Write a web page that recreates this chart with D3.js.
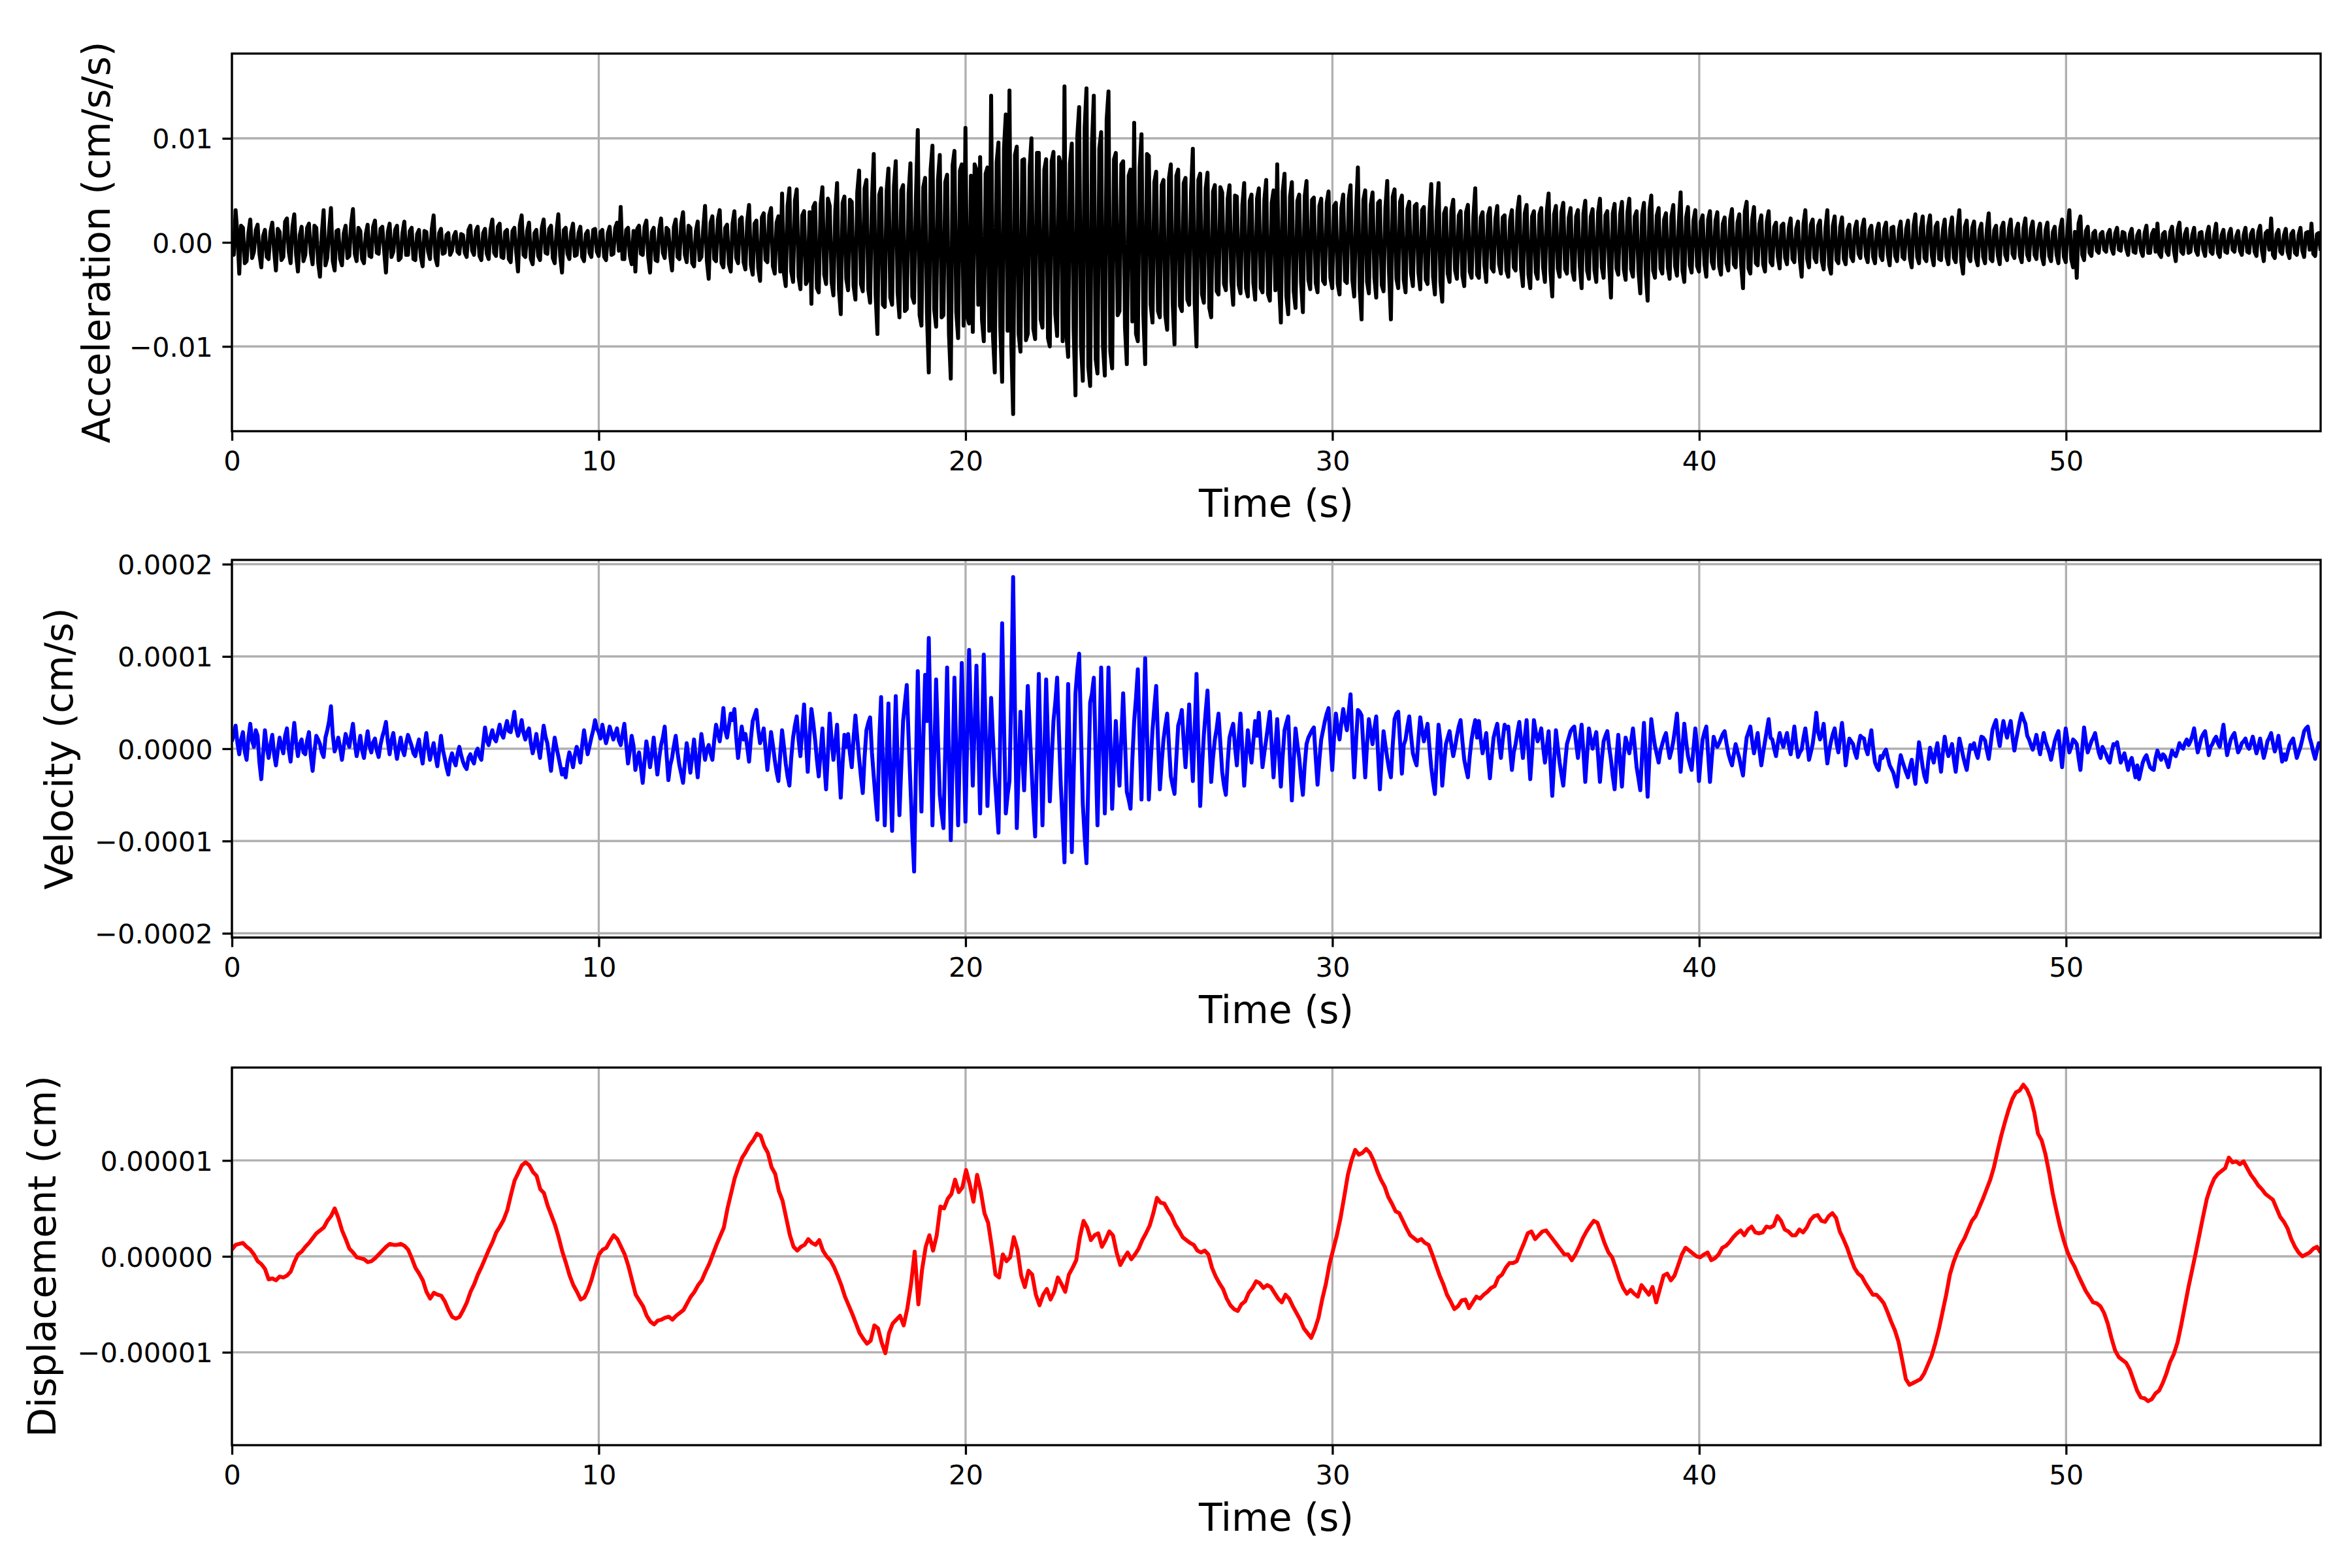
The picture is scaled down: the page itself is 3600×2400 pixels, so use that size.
<!DOCTYPE html>
<html>
<head>
<meta charset="utf-8">
<script src="https://cdn.jsdelivr.net/npm/d3@7"></script>
<style>
  body { margin: 0; background: #ffffff; }
  svg { display: block; font-family: "DejaVu Sans", sans-serif; }
</style>
</head>
<body>
<script>

// Data (samples evenly spaced from 0 to tEnd)
// ==============================
var tEnd = 56.94;

// acceleration, units of 1e-4 cm/s/s, one row per second
var accelUnit = 1e-4;
var accel = [
  5, -12, 31, 8, -30, 16, 14, -20, -18, 9, 22, -15, -9, 12, 17, -11, -24, 6, 12, -14,
  -16, 10, 19, -8, -27, 13, 10, -17, -14, 20, 23, -9, -20, 15, 27, -12, -28, 7, 15, -18,
  -12, 14, 18, -10, -21, 16, 14, -19, -33, 8, 31, -22, -15, 12, 33, -18, -27, 11, 12, -16,
  -22, 9, 16, -15, -13, 18, 32, -11, -18, 14, 11, -16, -20, 8, 17, -13, -14, 15, 21, -10,
  -11, 13, 15, -8, -29, 10, 18, -14, -9, 12, 16, -17, -15, 9, 20, -12, -12, 11, 14, -16,
  -17, 8, 12, -14, -23, 11, 10, -9, -16, 13, 26, -15, -22, 9, 13, -11, -10, 7, 9, -12,
  -8, 6, 10, -9, -11, 8, 7, -10, -14, 12, 16, -8, -12, 11, 15, -13, -17, 9, 13, -11,
  -16, 12, 22, -10, -13, 15, 18, -14, -15, 10, 12, -16, -19, 11, 14, -9, -28, 17, 26, -12,
  -14, 11, 19, -16, -21, 9, 12, -13, -17, 14, 22, -10, -11, 13, 16, -15, -20, 10, 27, -13,
  -29, 12, 14, -11, -16, 10, 18, -13, -12, 9, 15, -14, -18, 8, 11, -10, -14, 12, 13, -9,
  -13, 10, 12, -14, -17, 9, 15, -12, -11, 14, 19, -8, 34, -16, -16, 12, 14, -13, -21, 11,
  -28, 13, 16, -11, -12, 15, 21, -14, -29, 10, 14, -17, -18, 12, 23, -10, -15, 14, 12, -13,
  -27, 15, 22, -14, -16, 18, 29, -12, -19, 16, 14, -20, -23, 11, 20, -17, -14, 13, 35, -18,
  -35, 19, 25, -16, -18, 22, 31, -20, -24, 14, 17, -21, -28, 18, 30, -15, -20, 22, 24, -19,
  -26, 20, 36, -22, -31, 18, 21, -25, -37, 24, 28, -17, -19, 26, 33, -23, -30, 19, 25, -28,
  47, -30, -42, 35, 52, -28, -38, 40, 51, -33, -45, 26, 30, -40, -36, 29, -59, 34, 38, -44,
  -48, 36, 53, -31, -40, 42, 35, -38, -51, 30, 57, -45, -69, 38, 44, -35, -46, 41, 39, -42,
  -55, 48, 69, -40, -47, 52, 60, -45, -58, 41, 85, -50, -88, 46, 52, -60, -62, 49, 71, -53,
  -60, 54, 78, -48, -72, 50, 55, -66, -64, 47, 76, -52, -58, 44, 108, -70, -80, 53, 62, -68,
  -125, 70, 93, -65, -81, 60, 84, -72, -70, 58, 65, -88, -131, 74, 88, -67, -92, 69, 75, -80,
  110, -72, -78, 64, -86, 75, 70, -60, 82, -74, -95, 66, 72, -85, 141, -90, -125, 77, 96, -82,
  -134, 90, 123, -85, 146, -98, -165, 84, 92, -88, -105, 79, 80, -94, -88, 72, 100, -83, -93, 86,
  86, -74, -82, 70, 80, -92, -100, 78, 87, -69, -90, 82, 75, -95, 150, -88, -110, 76, 95, -84,
  -147, 102, 130, -98, -133, 110, 148, -120, -138, 95, 141, -112, -126, 90, 106, -100, -128, 118, 145, -105,
  -121, 80, 86, -70, -66, 75, 78, -82, -117, 64, 70, -76, 115, -88, -95, 72, 104, -69, -117, 85,
  83, -60, -77, 58, 68, -66, -72, 55, 60, -70, -84, 62, 75, -58, -98, 64, 70, -61, -66, 57,
  62, -55, -60, 48, 90, -58, -100, 60, 66, -50, -58, 52, 67, -63, -72, 49, 55, -47, -50, 53,
  48, -40, -46, 42, 55, -38, -60, 45, 44, -41, -49, 36, 57, -44, -52, 40, 46, -39, -55, 42,
  52, -44, -48, 41, 60, -50, -56, 38, 50, -46, 75, -40, -77, 49, 66, -52, -69, 44, 58, -47,
  -63, 40, 46, -38, -67, 44, 59, -36, -45, 41, 43, -39, -48, 35, 42, -37, -40, 38, 49, -34,
  -44, 35, 38, -40, -50, 33, 46, -37, -39, 42, 55, -36, -52, 30, 72, -45, -74, 41, 50, -38,
  -49, 36, 48, -34, -53, 38, 40, -41, -47, 33, 59, -30, -74, 44, 51, -35, -44, 39, 45, -36,
  -48, 32, 39, -30, -42, 35, 37, -29, -45, 31, 34, -36, -40, 28, 56, -33, -50, 30, 57, -38,
  -57, 28, 33, -30, -38, 31, 41, -27, -35, 26, 30, -32, -42, 29, 36, -28, -34, 25, 52, -31,
  -34, 24, 29, -22, -38, 26, 33, -25, -28, 23, 35, -21, -30, 24, 26, -27, -33, 22, 31, -24,
  -27, 30, 44, -26, -42, 28, 36, -31, -44, 25, 30, -29, -35, 27, 33, -24, -38, 30, 47, -28,
  -52, 27, 35, -25, -33, 29, 38, -26, -30, 24, 33, -28, -36, 25, 31, -23, -44, 28, 40, -27,
  -35, 25, 32, -27, -38, 29, 42, -24, -34, 26, 30, -22, -53, 28, 37, -25, -31, 27, 39, -26,
  -36, 29, 42, -26, -33, 25, 30, -28, -49, 27, 38, -30, -56, 31, 45, -27, -34, 26, 33, -25,
  -30, 22, 28, -24, -35, 25, 36, -23, -32, 20, 48, -27, -38, 24, 34, -22, -29, 21, 31, -23,
  -28, 20, 26, -21, -33, 22, 30, -19, -25, 21, 29, -23, -31, 18, 24, -20, -27, 22, 32, -21,
  -24, 19, 27, -22, -44, 30, 39, -25, -30, 22, 34, -20, -22, 18, 26, -21, -28, 20, 30, -19,
  -22, 15, 19, -14, -25, 16, 18, -15, -21, 14, 23, -16, -19, 13, 20, -17, -33, 18, 31, -16,
  -24, 17, 22, -15, -19, 16, 21, -18, -26, 14, 31, -22, -30, 16, 25, -17, -20, 15, 24, -16,
  -21, 12, 17, -14, -18, 13, 20, -11, -15, 14, 22, -13, -19, 12, 16, -14, -20, 11, 18, -13,
  -17, 13, 19, -12, -22, 14, 15, -13, -18, 12, 20, -14, -16, 13, 21, -15, -24, 16, 27, -14,
  -20, 14, 25, -15, -18, 16, 26, -13, -22, 15, 19, -16, -17, 12, 22, -14, -21, 13, 24, -15,
  -19, 14, 31, -18, -30, 15, 21, -13, -18, 14, 20, -15, -22, 12, 18, -14, -20, 13, 28, -16,
  -18, 12, 16, -13, -21, 14, 19, -12, -17, 13, 22, -11, -15, 12, 18, -13, -19, 14, 23, -12,
  -17, 13, 20, -12, -16, 11, 18, -14, -21, 12, 19, -13, -18, 10, 15, -12, -20, 13, 22, -14,
  -19, 14, 31, -16, -24, 10, -34, 18, 25, -12, -17, 11, 15, -10, -13, 9, 11, -8, -10, 8,
  10, -7, -9, 8, 12, -6, -11, 9, 14, -7, -8, 10, 9, -6, -12, 8, 13, -9, -10, 7,
  11, -8, -13, 9, 16, -10, -10, 8, 12, -9, 18, -11, -14, 8, 10, -9, -12, 10, 15, -8,
  -18, 12, 19, -9, -11, 8, 13, -10, -9, 7, 14, -8, -12, 9, 10, -7, -13, 8, 15, -9,
  -11, 8, 18, -10, -14, 7, 12, -9, -10, 8, 13, -7, -9, 6, 11, -8, -12, 7, 14, -9,
  -10, 8, 12, -9, -13, 10, 16, -8, -18, 9, 11, -7, 23, -12, -15, 8, 12, -9, -11, 7,
  13, -9, -15, 8, 11, -10, -12, 7, 14, -8, -14, 9, 10, -7, 18, -11, -13, 8, 9, -8
];

// velocity, units of 1e-6 cm/s, one row per second
var velocityUnit = 1e-6;
var velocity = [
  8, 15, 25, 6, -6, 10, 18, -3, -12, 12, 27, 9, 2, 20, 14, -15, -33, -5, 20, 2,
  -10, 4, 15, -6, -18, -2, 12, 3, -5, 14, 22, -1, -14, 9, 28, 7, -8, 5, 10, -4,
  -6, 9, 18, -8, -24, -3, 14, 10, 5, -4, -9, 12, 20, 30, 46, 15, -3, 4, 12, 1,
  -12, 3, 16, 8, 2, 15, 27, 6, -8, 2, 14, -2, -10, 5, 19, 3, -4, 7, 11, -2,
  -9, 4, 13, 20, 29, 8, -6, 9, 17, 2, -11, 1, 12, -1, -7, 6, 15, 9, 3, -5,
  -8, 2, 10, -5, -16, 3, 17, 0, -12, -2, 6, -8, -19, -3, 14, -1, -10, -20, -28, -12,
  -5, -13, -18, -6, 2, -7, -14, -19, -22, -10, -6, -12, -16, -4, 0, -8, -12, 6, 23, 9,
  4, 13, 20, 11, 8, 17, 26, 16, 12, 22, 30, 19, 18, 28, 40, 22, 14, 21, 31, 17,
  10, 18, 22, 6, -5, 4, 16, 2, -10, 8, 25, 13, 6, -9, -24, -4, 12, 1, -8, -18,
  -28, -22, -31, -14, -4, -11, -20, -7, 2, -5, -15, 4, 20, 6, -6, 3, 12, 20, 31, 22,
  18, 11, 26, 15, 6, 14, 24, 17, 10, 16, 22, 9, 4, 16, 27, 5, -16, -2, 14, 3,
  -23, -12, -4, -20, -37, -14, 8, -5, -20, -6, 12, -9, -28, -10, 4, 12, 24, -6, -34, -18,
  -10, 3, 14, -4, -18, -27, -37, -15, 6, -9, -26, -8, 10, -12, -31, -6, 16, 2, -12, -1,
  4, -5, -12, 9, 26, 17, 8, 23, 44, 20, 12, 25, 38, 31, 43, 12, -10, 8, 24, 10,
  16, 2, -14, 11, 30, 36, 42, 21, 6, 13, 22, -1, -23, -3, 18, 4, -12, -25, -35, -6,
  20, 3, -16, -30, -40, -10, 12, 25, 35, 10, -8, 21, 48, 9, -25, 14, 43, 28, 10, -12,
  -30, -4, 22, -15, -44, -5, 38, 10, -12, 6, 26, -18, -53, -16, 15, 2, 16, -5, -20, 12,
  36, 12, -10, -30, -48, -9, 20, 28, 34, -4, -30, -55, -77, 10, 56, -20, -83, -15, 49, -30,
  -89, -12, 57, -15, -72, -20, 30, 50, 69, 12, -40, -90, -133, -20, 84, 5, -68, 10, 80, 30,
  120, 20, -83, -5, 75, 10, -50, -70, -86, 0, 88, -10, -99, -15, 77, -5, -83, 5, 93, 10,
  -79, 15, 107, 30, -40, 25, 90, 10, -70, 12, 102, 18, -62, -5, 55, 12, -30, -60, -91, 20,
  136, 30, -70, -50, -35, 60, 186, 40, -86, -22, 40, -8, -45, 10, 68, 22, -20, -60, -95, -8,
  81, -5, -83, -6, 75, 8, -57, -12, 30, 50, 77, 16, -40, -80, -123, -25, 70, -20, -112, -30,
  60, 85, 103, 18, -60, -95, -124, -35, 50, 60, 77, -5, -83, 0, 88, 10, -70, 5, 88, 12,
  -65, -15, 30, -8, -40, 12, 60, 8, -47, -55, -65, -12, 30, 55, 86, 10, -55, 20, 98, 18,
  -55, -15, 20, 45, 68, 10, -44, -15, 10, 25, 38, 3, -30, -40, -49, -10, 25, 32, 42, 8,
  -20, 12, 48, 5, -35, 20, 81, 8, -62, -20, 15, 40, 63, 10, -36, -10, 10, 22, 38, 6,
  -25, -40, -50, -15, 12, 20, 27, 2, -18, 12, 38, -2, -40, -8, 20, 0, -15, 8, 30, 14,
  39, 8, -20, -4, 10, 25, 40, 2, -31, 0, 32, -6, -41, -8, 20, 28, 35, -12, -56, -14,
  22, 5, -10, -32, -50, -18, 5, 12, 16, 20, 23, -10, -39, -12, 10, 20, 30, 38, 44, 8,
  -23, 12, 38, 22, 10, 28, 43, 30, 20, 40, 59, 12, -31, 8, 42, 40, 36, 2, -31, 5,
  32, 18, 5, 22, 35, -6, -44, -10, 19, 4, -10, -22, -31, 4, 32, 38, 40, 8, -27, 4,
  10, 24, 35, 14, -5, -12, -18, 10, 34, 20, 8, 18, 27, 2, -20, -36, -49, -10, 26, 8,
  -40, -16, 5, 12, 19, 4, -8, 2, 14, 24, 31, 8, -12, -22, -31, -8, 10, 22, 31, 12,
  30, 10, -5, 6, 17, -10, -32, -8, 12, 20, 27, 6, -10, 10, 26, 22, 24, -2, -23, -4,
  5, 18, 29, 8, -10, 12, 31, -2, -33, -4, 31, 18, 8, 14, 22, 2, -15, 2, 19, -16,
  -51, -14, 20, 2, -15, -28, -40, -16, 5, 12, 19, 22, 24, 6, -10, 8, 26, -4, -36, -6,
  22, 10, 0, 10, 18, -8, -36, -12, 8, 14, 19, 2, -12, -30, -44, -10, 15, -14, -41, -8,
  12, 4, -5, 8, 22, 2, -20, -32, -45, -5, 28, -10, -52, -8, 32, 16, 3, -6, -15, -2,
  5, 12, 17, 2, -10, -2, 8, 22, 38, 6, -25, 2, 27, 8, -8, -16, -23, 0, 22, 2,
  -35, -10, 10, 18, 24, -6, -36, -10, 13, 6, 2, 6, 11, 16, 19, 6, -5, -12, -18, -6,
  5, -3, -10, -20, -29, -6, 12, 18, 24, 8, -5, 6, 17, -2, -18, -4, 8, 20, 32, 12,
  10, 0, -8, 6, 17, 8, 2, 10, 17, 4, -6, 8, 24, 6, -9, -4, -1, 12, 22, 6,
  -12, -4, 5, 20, 39, 18, 10, 16, 27, 4, -16, -2, 8, 16, 22, 6, -4, 12, 28, 8,
  -18, -2, 11, 8, 5, -4, -10, 4, 14, 12, 11, 0, -6, 8, 20, 0, -15, -20, -23, -8,
  -10, -4, -1, -10, -18, -22, -26, -34, -41, -20, -7, -14, -20, -26, -31, -20, -12, -26, -38, -14,
  7, -6, -20, -30, -36, -14, 1, -8, -15, -4, 6, -10, -25, -4, 13, 0, -8, -2, 5, -12,
  -25, -6, 11, 2, -8, -16, -23, -8, 4, 0, 6, -4, -10, 2, 13, 12, 9, -2, -11, 4,
  20, 26, 31, 14, 3, 18, 30, 20, 12, 22, 30, 12, -2, 10, 20, 30, 38, 32, 27, 14,
  10, 4, -1, 6, 15, 4, -6, 6, 17, 8, 2, -4, -12, -2, 8, 14, 19, -2, -20, 4,
  22, 8, -4, 2, 10, 8, 5, -10, -23, 0, 23, 8, -4, 2, 8, 12, 17, 6, -4, -10,
  2, -2, -6, -12, -15, -4, 5, 4, 7, -4, -15, -10, -5, -14, -23, -14, -10, -20, -31, -18,
  -33, -24, -15, -10, -7, -14, -20, -22, -23, -10, -2, -8, -12, -6, -8, -14, -20, -10, -2, -6,
  -8, -2, 6, 2, 0, 6, 10, 4, 8, 14, 22, 8, -4, 4, 12, 16, 19, 6, -7, 2,
  5, 10, 13, 6, 2, 14, 26, 8, -7, 2, 10, 14, 17, 6, -4, 0, 6, 8, 11, 3,
  0, 6, 13, 4, -5, 2, 11, 0, -10, -2, 8, 12, 17, 6, -3, 4, 14, 0, -14, -6,
  -12, -4, 4, 8, 11, 0, -10, -4, 2, 10, 19, 22, 24, 12, 5, -4, -11, -2, 6, 2
];

// displacement, units of 1e-7 cm, one row per two seconds
var displacementUnit = 1e-7;
var displacement = [
  7, 12, 13, 14, 10, 7, 2, -5, -8, -13, -24, -23, -25, -21, -22, -20, -16, -6, 2, 5,
  10, 14, 19, 24, 27, 30, 37, 42, 50, 40, 27, 18, 8, 4, -1, -2, -3, -6, -5, -2,
  2, 6, 10, 13, 12, 12, 13, 11, 7, -2, -12, -18, -25, -37, -44, -38, -40, -41, -47, -56,
  -63, -65, -63, -56, -48, -37, -29, -19, -11, -2, 7, 15, 25, 31, 38, 48, 64, 79, 87, 95,
  98, 95, 88, 84, 70, 66, 53, 43, 33, 20, 5, -7, -20, -30, -37, -45, -43, -35, -24, -10,
  2, 7, 9, 16, 22, 18, 10, 2, -10, -25, -40, -46, -52, -62, -68, -71, -67, -66, -64, -63,
  -66, -62, -59, -56, -49, -42, -37, -30, -25, -16, -8, 2, 12, 21, 30, 50, 66, 82, 93, 103,
  109, 116, 121, 128, 126, 115, 108, 93, 86, 68, 58, 40, 22, 10, 6, 10, 12, 18, 14, 12,
  17, 6, 0, -4, -11, -20, -30, -42, -51, -60, -70, -80, -86, -91, -88, -72, -75, -90, -101, -80,
  -70, -66, -62, -72, -54, -29, 5, -50, -14, 10, 22, 6, 22, 52, 50, 60, 65, 80, 67, 72,
  90, 75, 57, 85, 68, 45, 35, 10, -19, -22, 2, -5, -1, 20, 7, -20, -32, -15, -19, -40,
  -51, -40, -34, -45, -37, -22, -29, -37, -19, -12, -4, 20, 37, 30, 17, 22, 24, 10, 17, 26,
  22, 4, -9, -2, 4, -3, 2, 8, 17, 24, 32, 45, 61, 56, 55, 48, 42, 33, 27, 20,
  17, 14, 12, 6, 4, 6, 2, -12, -21, -28, -34, -44, -51, -55, -57, -50, -47, -38, -33, -26,
  -28, -33, -30, -32, -38, -44, -48, -40, -44, -52, -59, -66, -75, -80, -85, -76, -64, -45, -29, -8,
  7, 22, 40, 62, 85, 100, 111, 106, 108, 112, 108, 100, 89, 80, 73, 62, 55, 47, 45, 37,
  29, 22, 19, 16, 18, 14, 12, 2, -9, -20, -29, -40, -47, -55, -52, -46, -45, -54, -48, -42,
  -44, -40, -37, -33, -31, -22, -19, -12, -7, -7, -5, 5, 14, 24, 26, 18, 22, 26, 27, 22,
  17, 12, 7, 2, 2, -4, 2, 10, 19, 26, 32, 37, 35, 24, 13, 4, -1, -12, -24, -33,
  -39, -35, -39, -42, -30, -35, -40, -32, -48, -34, -20, -18, -25, -20, -9, 2, 9, 6, 3, 0,
  -1, 2, 4, -4, -2, 2, 9, 11, 15, 20, 24, 27, 22, 28, 31, 25, 24, 25, 31, 30,
  32, 42, 37, 28, 26, 22, 22, 28, 25, 30, 38, 42, 43, 37, 36, 42, 45, 40, 26, 18,
  9, -2, -12, -18, -21, -28, -34, -40, -40, -44, -49, -58, -68, -77, -89, -108, -128, -134, -132, -130,
  -128, -122, -113, -104, -91, -76, -58, -40, -19, -6, 4, 12, 19, 28, 37, 42, 51, 60, 70, 80,
  93, 110, 126, 140, 153, 164, 171, 173, 179, 174, 165, 150, 128, 121, 107, 88, 66, 48, 31, 17,
  5, -4, -11, -20, -28, -36, -42, -48, -49, -52, -59, -70, -85, -98, -105, -108, -111, -118, -129, -140,
  -147, -148, -151, -149, -143, -140, -132, -122, -110, -102, -90, -72, -52, -32, -14, 4, 23, 42, 60, 72,
  81, 86, 89, 92, 103, 98, 99, 96, 99, 92, 85, 80, 74, 70, 65, 62, 59, 50, 41, 36,
  29, 18, 10, 4, 0, 2, 4, 8, 10, 4
];

// ticks and labels
var timeTicks = [0, 10, 20, 30, 40, 50];
var timeTickLabels = ["0", "10", "20", "30", "40", "50"];
var accelTicks = [-0.01, 0, 0.01];
var accelTickLabels = ["\u22120.01", "0.00", "0.01"];
var velocityTicks = [-0.0002, -0.0001, 0, 0.0001, 0.0002];
var velocityTickLabels = ["\u22120.0002", "\u22120.0001", "0.0000", "0.0001", "0.0002"];
var displacementTicks = [-0.00001, 0, 0.00001];
var displacementTickLabels = ["\u22120.00001", "0.00000", "0.00001"];

var panels = [
  {values: accel, unit: accelUnit, color: "#000000", label: "Acceleration (cm/s/s)",
   ticks: accelTicks, tickLabels: accelTickLabels},
  {values: velocity, unit: velocityUnit, color: "#0000ff", label: "Velocity (cm/s)",
   ticks: velocityTicks, tickLabels: velocityTickLabels},
  {values: displacement, unit: displacementUnit, color: "#ff0000", label: "Displacement (cm)",
   ticks: displacementTicks, tickLabels: displacementTickLabels}
];

// Layout
// ==============================
var svgWidth = 3600;
var svgHeight = 2400;
var plotLeft = 355;
var plotRight = 3552;
var plotWidth = plotRight - plotLeft;
var panelTop = [82, 857, 1634];
var panelHeight = 578;
var yLabelX = [168, 111, 85];

var tickLen = 14.6;
var spineWidth = 3.3;
var tickFont = 41.7;
var labelFont = 58.3;

var svg = d3.select("body")
  .append("svg")
  .attr("width", svgWidth)
  .attr("height", svgHeight);

svg.append("rect")
  .attr("width", svgWidth)
  .attr("height", svgHeight)
  .attr("fill", "#ffffff");

var xScale = d3.scaleLinear()
  .domain([0, tEnd])
  .range([0, plotWidth]);

panels.forEach(function(p, k) {

  var n = p.values.length;
  var series = p.values.map(function(v, i) {
    return {t: i * tEnd / (n - 1), v: v * p.unit};
  });

  // symmetric limits, 10% past the largest swing
  var m = d3.max(series, d => Math.abs(d.v)) * 1.1;
  var yScale = d3.scaleLinear()
    .domain([-m, m])
    .range([panelHeight, 0]);

  var g = svg.append("g")
    .attr("transform", `translate(${plotLeft},${panelTop[k]})`);

  // grid
  g.append("g").selectAll("line")
    .data(timeTicks)
    .join("line")
    .attr("x1", d => xScale(d)).attr("x2", d => xScale(d))
    .attr("y1", 0).attr("y2", panelHeight)
    .attr("stroke", "#b0b0b0")
    .attr("stroke-width", spineWidth);

  g.append("g").selectAll("line")
    .data(p.ticks)
    .join("line")
    .attr("x1", 0).attr("x2", plotWidth)
    .attr("y1", d => yScale(d)).attr("y2", d => yScale(d))
    .attr("stroke", "#b0b0b0")
    .attr("stroke-width", spineWidth);

  // trace
  svg.append("clipPath")
    .attr("id", "clip" + k)
    .append("rect")
    .attr("width", plotWidth)
    .attr("height", panelHeight);

  var line = d3.line()
    .x(d => xScale(d.t))
    .y(d => yScale(d.v));

  g.append("path")
    .datum(series)
    .attr("clip-path", `url(#clip${k})`)
    .attr("fill", "none")
    .attr("stroke", p.color)
    .attr("stroke-width", 6)
    .attr("stroke-linejoin", "round")
    .attr("d", line);

  // axes
  var xAxis = g.append("g")
    .attr("transform", `translate(0,${panelHeight})`)
    .call(d3.axisBottom(xScale)
      .tickValues(timeTicks)
      .tickFormat((d, i) => timeTickLabels[i])
      .tickSize(tickLen)
      .tickSizeOuter(0)
      .tickPadding(15.5));

  var yAxis = g.append("g")
    .call(d3.axisLeft(yScale)
      .tickValues(p.ticks)
      .tickFormat((d, i) => p.tickLabels[i])
      .tickSize(tickLen)
      .tickSizeOuter(0)
      .tickPadding(14.6));

  [xAxis, yAxis].forEach(function(a) {
    a.attr("font-size", tickFont).attr("font-family", "DejaVu Sans, sans-serif");
    a.select(".domain").remove();
    a.selectAll(".tick line").attr("stroke", "#000000").attr("stroke-width", spineWidth);
    a.selectAll(".tick text").attr("fill", "#000000");
  });
  yAxis.selectAll(".tick text").attr("dy", "0.36em");

  // frame
  g.append("rect")
    .attr("width", plotWidth)
    .attr("height", panelHeight)
    .attr("fill", "none")
    .attr("stroke", "#000000")
    .attr("stroke-width", spineWidth);

  // axis labels
  g.append("text")
    .attr("x", plotWidth / 2)
    .attr("y", panelHeight + 131)
    .attr("text-anchor", "middle")
    .attr("font-size", labelFont)
    .attr("fill", "#000000")
    .text("Time (s)");

  g.append("text")
    .attr("transform", `translate(${yLabelX[k] - plotLeft},${panelHeight / 2}) rotate(-90)`)
    .attr("text-anchor", "middle")
    .attr("font-size", labelFont)
    .attr("fill", "#000000")
    .text(p.label);
});

</script>
</body>
</html>
